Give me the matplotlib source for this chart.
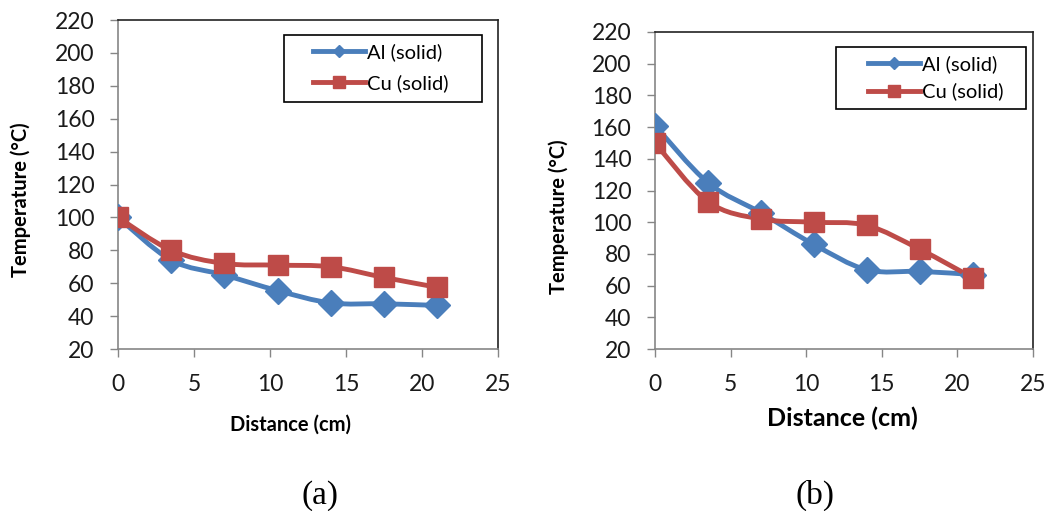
import numpy as np
import matplotlib
matplotlib.use("Agg")
import matplotlib.pyplot as plt
from matplotlib.path import Path
from matplotlib.patches import PathPatch, Rectangle
from matplotlib.lines import Line2D

# distance along the bar (cm)
distance = [0, 3.5, 7, 10.5, 14, 17.5, 21]

# (a) temperatures (deg C)
al_a = [100, 74, 65, 55.5, 48, 47.5, 46.5]
cu_a = [100, 80, 72, 71, 70, 63.5, 57.5]

# (b) temperatures (deg C)
al_b = [161, 125, 106, 86, 70, 69, 67]
cu_b = [150, 113, 102, 100, 98, 83, 65]

blue = "#4a7ebb"
red = "#be4b48"
plt.rcParams["font.family"] = ["Lato", "DejaVu Sans"]


def smooth_path(x, y):
    # Catmull-Rom style bezier through the points (like Excel's smoothed line)
    pts = np.column_stack([x, y]).astype(float)
    n = len(pts)
    verts = [pts[0]]
    codes = [Path.MOVETO]
    for i in range(n - 1):
        p0 = pts[i - 1] if i > 0 else pts[i]
        p1 = pts[i]
        p2 = pts[i + 1]
        p3 = pts[i + 2] if i + 2 < n else pts[i + 1]
        c1 = p1 + (p2 - p0) / 6.0
        c2 = p2 - (p3 - p1) / 6.0
        verts += [c1, c2, p2]
        codes += [Path.CURVE4] * 3
    return Path(verts, codes)


def draw_series(ax, x, y, color, marker, ms):
    ax.add_patch(PathPatch(smooth_path(x, y), facecolor="none", edgecolor=color,
                           lw=3.5, capstyle="round", joinstyle="round", zorder=3))
    ax.plot(x, y, linestyle="none", marker=marker, ms=ms, color=color,
            markeredgecolor=color, zorder=4)


def setup_axes(ax, xlabel_size, xlabel_pos, ylabel_pos):
    ax.set_xlim(0, 25)
    ax.set_ylim(20, 220)
    ax.set_xticks(range(0, 26, 5))
    ax.set_yticks(range(20, 221, 20))
    ax.tick_params(axis="both", direction="out", length=6, width=1,
                   color="#868686", labelsize=16.5, labelcolor="#1a1a1a")
    ax.tick_params(axis="x", pad=12)
    ax.tick_params(axis="y", pad=11)
    for s in ["left", "bottom"]:
        ax.spines[s].set_color("#868686")
    for s in ["top", "right"]:
        ax.spines[s].set_color("#222222")
    for s in ax.spines.values():
        s.set_linewidth(1.2)
    ax.set_ylabel("Temperature (°C)", fontsize=14.5, fontweight="bold")
    ax.yaxis.set_label_coords(*ylabel_pos)
    ax.set_xlabel("Distance (cm)", fontsize=xlabel_size, fontweight="bold")
    ax.xaxis.set_label_coords(*xlabel_pos)


def add_legend(ax, box, handle_x, fontsize, spacing):
    ax.add_patch(Rectangle((box[0], box[1]), box[2], box[3], transform=ax.transAxes,
                           facecolor="white", edgecolor="black", lw=1.2, zorder=5))
    handles = [
        Line2D([], [], color=blue, lw=3.5, marker="D", ms=6),
        Line2D([], [], color=red, lw=3.5, marker="s", ms=8),
    ]
    ax.legend(handles, ["Al (solid)", "Cu (solid)"], loc="upper left",
              bbox_to_anchor=(handle_x, box[1] + box[3] - 0.01), frameon=False,
              fontsize=fontsize, handlelength=2.6, handletextpad=0.1,
              labelspacing=spacing, borderaxespad=0, borderpad=0.25).set_zorder(6)


fig = plt.figure(figsize=(10.53, 5.11), dpi=100)

ax1 = fig.add_axes([0.1121, 0.3170, 0.3609, 0.6438])
draw_series(ax1, distance, al_a, blue, "D", 13)
draw_series(ax1, distance, cu_a, red, "s", 15)
setup_axes(ax1, 14.5, (0.455, -0.20), (-0.228, 0.453))
add_legend(ax1, (0.437, 0.751, 0.521, 0.203), 0.5, 14.5, 0.62)

ax2 = fig.add_axes([0.6220, 0.3170, 0.3590, 0.6204])
draw_series(ax2, distance, al_b, blue, "D", 13)
draw_series(ax2, distance, cu_b, red, "s", 15)
setup_axes(ax2, 18, (0.497, -0.182), (-0.228, 0.418))
add_legend(ax2, (0.479, 0.757, 0.503, 0.196), 0.55, 14.5, 0.48)

fig.text(0.304, 0.0, "(a)", family="Liberation Serif", fontsize=24,
         ha="center", va="bottom")
fig.text(0.774, 0.0, "(b)", family="Liberation Serif", fontsize=24,
         ha="center", va="bottom")

fig.savefig("out.png", dpi=100)
